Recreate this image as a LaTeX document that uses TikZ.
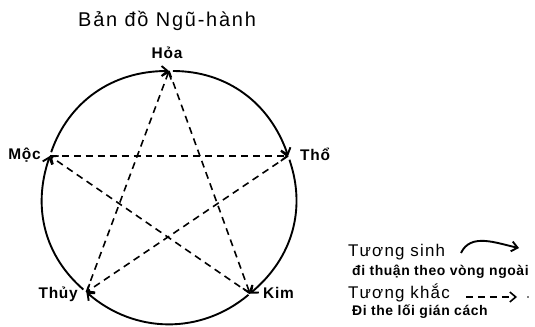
\documentclass[tikz,border=0pt]{standalone}
\usepackage{fontspec}
\setmainfont{Liberation Sans}
\newfontfamily\titlefont[LetterSpace=9]{Liberation Sans}
\newfontfamily\headfont[LetterSpace=7]{Liberation Sans}
\newfontfamily\notefont[LetterSpace=4]{Liberation Sans}
\newfontfamily\namefont[LetterSpace=5]{Liberation Sans}
\usetikzlibrary{arrows.meta, positioning, calc}
\definecolor{InkBlack}{RGB}{0,0,0}
\definecolor{PaperWhite}{RGB}{255,255,255}
\tikzset{
  % Element names round the circle
  element/.style={
    font=\namefont\bfseries\fontsize{15.5}{17}\selectfont,
    text=InkBlack, inner sep=0pt
  },
  % Title
  heading/.style={
    font=\titlefont\fontsize{20}{22}\selectfont,
    text=InkBlack, inner sep=0pt
  },
  % Legend captions
  legendhead/.style={
    font=\headfont\fontsize{17}{19}\selectfont,
    text=InkBlack, inner sep=0pt
  },
  legendnote/.style={
    font=\notefont\bfseries\fontsize{14}{16}\selectfont,
    text=InkBlack, inner sep=0pt
  },
  % Generating cycle (outer arcs)
  sinh/.style={
    -{Straight Barb[length=6pt,width=10pt]}, line width=1.9pt, color=InkBlack
  },
  % Overcoming cycle (dashed star)
  khac/.style={
    -{Straight Barb[length=6pt,width=10pt]}, line width=1.6pt, color=InkBlack,
    dash pattern=on 7pt off 5pt
  }
}

\begin{document}
\begin{tikzpicture}[x=1bp, y=1bp]

  \useasboundingbox[fill=PaperWhite] (0,0) rectangle (535,326);

  % ── Title ─────────────────────────────────────────────────────────────────
  \node[heading, anchor=base west] (title) at (78,300) {Bản đồ Ngũ-hành};

  % ── Five elements on the circle ──────────────────────────────────────────
  \coordinate (centre) at (169,129);
  \coordinate (hoa)  at ($(centre)+(90:126)$);
  \coordinate (tho)  at ($(centre)+(19:126)$);
  \coordinate (kim)  at ($(centre)+(-50:126)$);
  \coordinate (thuy) at ($(centre)+(-131:126)$);
  \coordinate (moc)  at ($(centre)+(161:126)$);

  \node[element, anchor=base]      (hoaname)  at (167,268) {Hỏa};
  \node[element, anchor=base west] (thoname)  at (300,166) {Thổ};
  \node[element, anchor=base east] (mocname)  at (41,167)  {Mộc};
  \node[element, anchor=base west] (kimname)  at (263,28)  {Kim};
  \node[element, anchor=base east] (thuyname) at (78,28)   {Thủy};

  % ── Tương sinh: outer arcs ────────────────────────────────────────────────
  \draw[sinh, shorten <=4pt] (hoa)  to[bend left=35.5] (tho);
  \draw[sinh, shorten <=4pt] (tho)  to[bend left=34.5] (kim);
  \draw[sinh, shorten <=2pt] (kim)  to[bend left=40.5] (thuy);
  \draw[sinh, shorten <=4pt] (thuy) to[bend left=34]   (moc);
  \draw[sinh, shorten <=4pt] (moc)  to[bend left=35.5] (hoa);

  % ── Tương khắc: dashed star ───────────────────────────────────────────────
  \draw[khac] (hoa)  -- (kim);
  \draw[khac] (kim)  -- (moc);
  \draw[khac] (moc)  -- (tho);
  \draw[khac] (tho)  -- (thuy);
  \draw[khac] (thuy) -- (hoa);

  % ── Legend ────────────────────────────────────────────────────────────────
  \node[legendhead, anchor=base west] (sinhhead) at (348,70) {Tương sinh};
  \node[legendnote, anchor=base west] (sinhnote) at (352,51) {đi thuận theo vòng ngoài};
  \node[legendhead, anchor=base west] (khachead) at (348,28) {Tương khắc};
  \node[legendnote, anchor=base west] (khacnote) at (352,11) {Đi the lối gián cách};

  \coordinate (sinhstart) at (461,73);
  \coordinate (sinhend)   at (519,78);
  \draw[sinh] (sinhstart) to[out=65, in=168] (sinhend);

  \coordinate (khacstart) at (466,29);
  \coordinate (khacend)   at (517,29);
  \draw[khac] (khacstart) -- (khacend);
  \fill[InkBlack] (528,29) circle (0.8);

\end{tikzpicture}
\end{document}
